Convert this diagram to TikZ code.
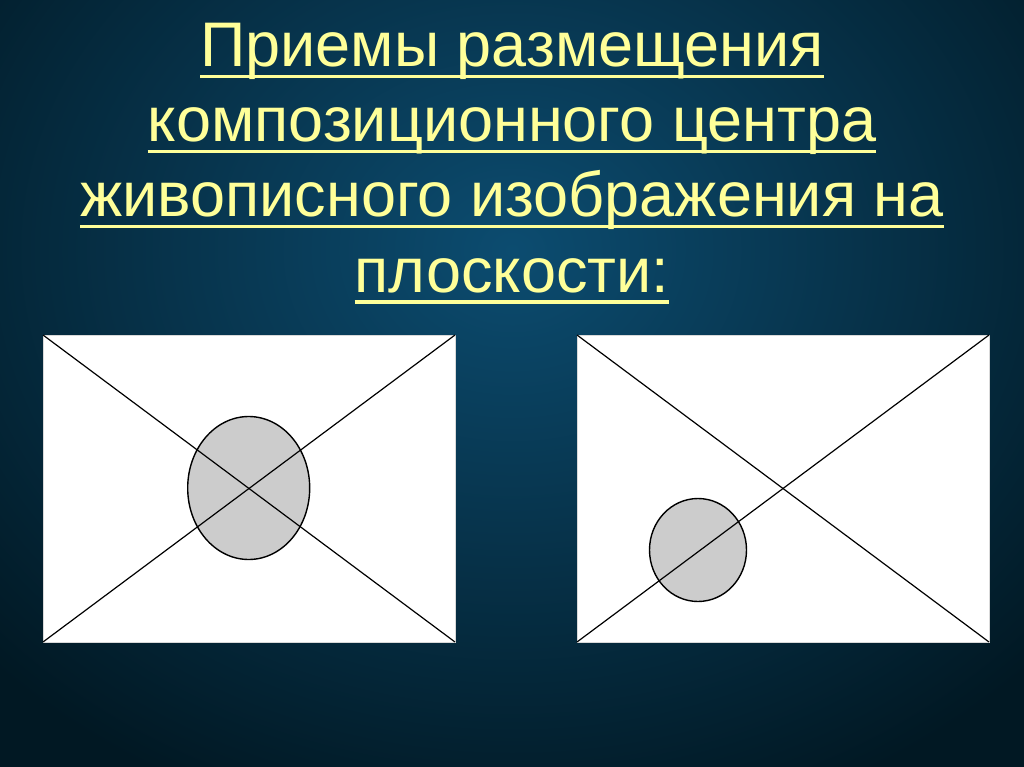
\documentclass[tikz,border=0pt]{standalone}
\usepackage{fontspec}
\setmainfont{Liberation Sans}
\usetikzlibrary{shapes.geometric}
\definecolor{titlecol}{HTML}{FFFF99}
\definecolor{bginner}{HTML}{0C4C70}
\definecolor{bgouter}{HTML}{011823}
\definecolor{discgray}{HTML}{CCCCCC}
\tikzset{
  titleline/.style={anchor=base, inner sep=0pt, text=titlecol, font=\fontsize{63}{75}\selectfont},
  uline/.style={draw=titlecol, line width=3.3pt},
  frame/.style={fill=white, draw=white!85!black, line width=0.6pt},
  diag/.style={draw=black, line width=1.2pt},
  disc/.style={ellipse, fill=discgray, draw=black, line width=1.4pt, inner sep=0pt}
}
\begin{document}
\begin{tikzpicture}[x=1pt,y=-1pt]
\useasboundingbox (0,0) rectangle (1024,767);
\fill[bgouter] (0,0) rectangle (1024,767);
\begin{scope}
\clip (0,0) rectangle (1024,767);
\shade[inner color=bginner, outer color=bgouter] (512,250) ellipse [x radius=720, y radius=600];
\end{scope}
% title
\node[titleline] (t1) at (512,66.7) {Приемы размещения};
\node[titleline] (t2) at (512,141.7) {композиционного центра};
\node[titleline] (t3) at (512,216.7) {живописного изображения на};
\node[titleline] (t4) at (512,292.5) {плоскости:};
\foreach \n in {t1,t2,t3,t4}{
  \draw[uline] ([yshift=-9.5pt]\n.base west) -- ([yshift=-9.5pt]\n.base east);
}
% left frame
\coordinate (la) at (43,335);
\coordinate (lb) at (455,335);
\coordinate (lc) at (455,642);
\coordinate (ld) at (43,642);
\path[frame] (la) rectangle (lc);
\node[disc, minimum width=122pt, minimum height=143pt] (le) at (248.7,488) {};
\draw[diag] (la) -- (lc);
\draw[diag] (lb) -- (ld);
% right frame
\coordinate (ra) at (577,335);
\coordinate (rb) at (989,335);
\coordinate (rc) at (989,642);
\coordinate (rd) at (577,642);
\path[frame] (ra) rectangle (rc);
\node[disc, minimum width=97pt, minimum height=103pt] (re) at (698,550) {};
\draw[diag] (ra) -- (rc);
\draw[diag] (rb) -- (rd);
\end{tikzpicture}
\end{document}
